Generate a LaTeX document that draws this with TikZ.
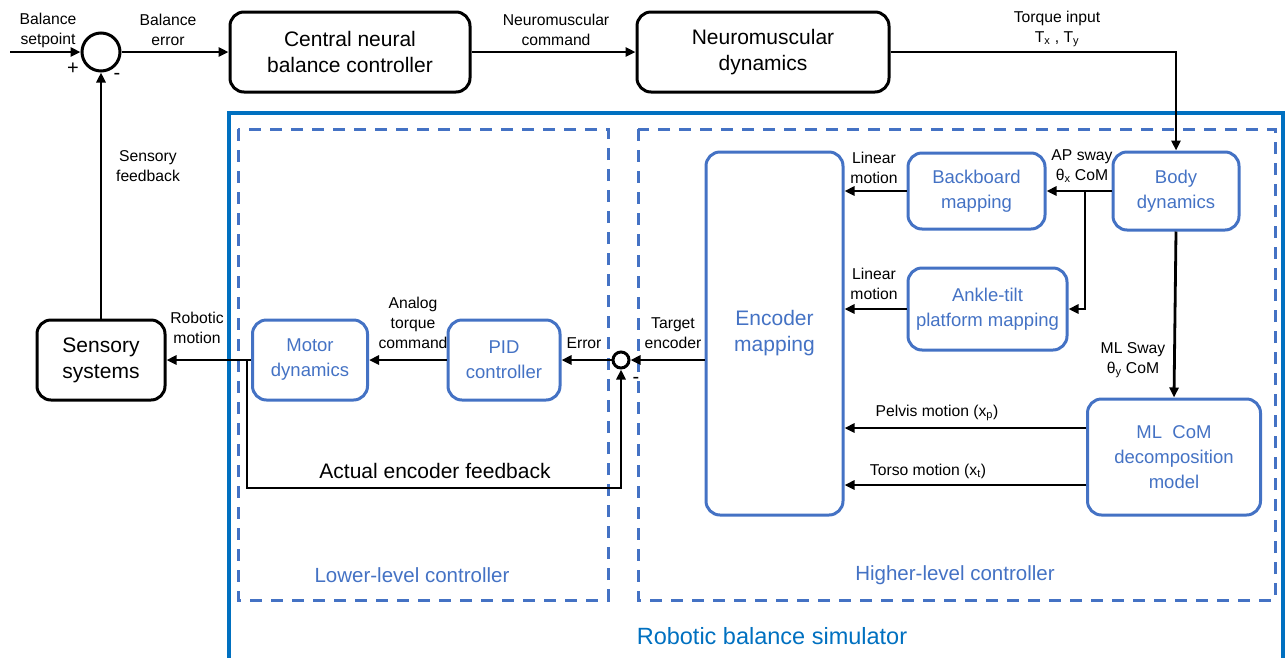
\documentclass[tikz,border=0pt]{standalone}
\usepackage{fontspec}
\setmainfont{Liberation Sans}
\usetikzlibrary{arrows.meta}
\definecolor{simblue}{HTML}{0070C0}
\definecolor{boxblue}{HTML}{4472C4}
\begin{document}
\begin{tikzpicture}[x=1pt, y=-1pt,
  blk/.style={draw, line width=3pt, rounded corners=14pt, align=center,
    font=\fontsize{21}{26}\selectfont, inner sep=0pt},
  bbx/.style={draw=boxblue, line width=3pt, rounded corners=14pt, align=center,
    text=boxblue, font=\fontsize{18.5}{25}\selectfont, inner sep=0pt},
  sumnode/.style={draw, circle, line width=3pt, inner sep=0pt},
  lbl/.style={align=center, font=\fontsize{15.7}{20}\selectfont, inner sep=1pt},
  wire/.style={line width=2.8pt, -{Triangle[length=10pt,width=9pt]}},
  dashbox/.style={draw=boxblue, line width=3pt, dash pattern=on 12pt off 9pt},
  bluetitle/.style={text=boxblue, font=\fontsize{20.5}{24}\selectfont}]

\useasboundingbox (0,0) rectangle (1286,657);

% simulator frame and controller groups
\draw[simblue, line width=3.6pt] (229,113) rectangle (1283,662);
\draw[dashbox] (238,129) rectangle (608,600);
\draw[dashbox] (638,129) rectangle (1275,600);

% top loop
\node[sumnode, minimum size=38pt] (sum1) at (101,52) {};
\node[blk, minimum width=240pt, minimum height=80pt] (cnc) at (350,52) {Central neural\\balance controller};
\node[blk, minimum width=252pt, minimum height=80pt] (nmd) at (763,52) {Neuromuscular\\dynamics};
\node[blk, minimum width=128pt, minimum height=80pt] (sens) at (101,360) {Sensory\\systems};

% lower-level controller
\node[bbx, minimum width=115pt, minimum height=80pt] (motor) at (310,360) {Motor\\dynamics};
\node[bbx, minimum width=112pt, minimum height=80pt] (pid) at (504,360) {PID\\controller};
\node[sumnode, minimum size=16pt] (sum2) at (621,360) {};

% higher-level controller
\node[bbx, minimum width=137pt, minimum height=363pt, font=\fontsize{21}{26}\selectfont] (enc) at (774.5,333.5) {Encoder\\mapping};
\node[bbx, minimum width=137pt, minimum height=76pt] (back) at (976.5,191) {Backboard\\mapping};
\node[bbx, minimum width=159pt, minimum height=82pt] (ankle) at (987.5,309) {Ankle-tilt\\platform mapping};
\node[bbx, minimum width=126pt, minimum height=78pt] (body) at (1176,191) {Body\\dynamics};
\node[bbx, minimum width=173pt, minimum height=116pt] (mlcom) at (1174,457) {ML\ \ CoM\\decomposition\\model};

% free ends and bends
\coordinate (setin) at (10,52);
\coordinate (apb) at (1085,191);
\coordinate (pel) at (0,428);
\coordinate (tor) at (0,485);
\coordinate (fbtop) at (247,360);
\coordinate (fbbot) at (247,488);

% connectors
\draw[wire] (setin) -- (sum1.west);
\draw[wire] (sum1.east) -- (cnc.west);
\draw[wire] (cnc.east) -- (nmd.west);
\draw[wire] (nmd.east) -| (body.north);
\draw[wire] (sens.north) -- (sum1.south);
\draw[wire] (body.west) -- (back.east);
\draw[wire] (apb) |- (ankle.east);
\draw[wire] (body.south) -- (mlcom.north);
\draw[wire] (back.west) -- (back.west -| enc.east);
\draw[wire] (ankle.west) -- (ankle.west -| enc.east);
\draw[wire] (mlcom.west |- pel) -- (enc.east |- pel);
\draw[wire] (mlcom.west |- tor) -- (enc.east |- tor);
\draw[wire] (enc.west |- sum2) -- (sum2.east);
\draw[wire] (sum2.west) -- (pid.east);
\draw[wire] (pid.west) -- (motor.east);
\draw[wire] (motor.west) -- (sens.east);
\draw[wire] (fbtop) -- (fbbot) -| (sum2.south);

% labels
\node[lbl] (lsetp) at (48,30) {Balance\\setpoint};
\node[lbl] (lerr) at (168,30) {Balance\\error};
\node[lbl] (lcmd) at (556,30) {Neuromuscular\\command};
\node[lbl] (ltq) at (1057,29) {Torque input\\T\textsubscript{x} , T\textsubscript{y}};
\node[lbl, font=\fontsize{20}{20}\selectfont] (lplus) at (73,69) {+};
\node[lbl, font=\fontsize{20}{20}\selectfont] (lminus) at (117,76) {-};
\node[lbl] (lsfb) at (148,166) {Sensory\\feedback};
\node[lbl] (lrob) at (197,328) {Robotic\\motion};
\node[lbl] (ltorq) at (413,323) {Analog\\torque\\command};
\node[lbl] (lerror) at (584,343) {Error};
\node[lbl] (ltgt) at (673,333) {Target\\encoder};
\node[lbl, font=\fontsize{20}{20}\selectfont] (lminus2) at (636,380) {-};
\node[lbl] (llin1) at (874,168) {Linear\\motion};
\node[lbl] (llin2) at (874,284) {Linear\\motion};
\node[lbl] (lap) at (1082,166) {AP sway\\θ\textsubscript{x} CoM};
\node[lbl] (lml) at (1133,360) {ML Sway\\θ\textsubscript{y} CoM};
\node[lbl] (lpel) at (937,413) {Pelvis motion (x\textsubscript{p})};
\node[lbl] (ltor) at (928,471) {Torso motion (x\textsubscript{t})};
\node[lbl, font=\fontsize{21}{24}\selectfont] (lact) at (435,471) {Actual encoder feedback};
\node[bluetitle] (llow) at (412,575) {Lower-level controller};
\node[bluetitle] (lhigh) at (955,575) {Higher-level controller};
\node[text=simblue, font=\fontsize{23.5}{28}\selectfont] (lsim) at (772,636) {Robotic balance simulator};

\end{tikzpicture}
\end{document}
